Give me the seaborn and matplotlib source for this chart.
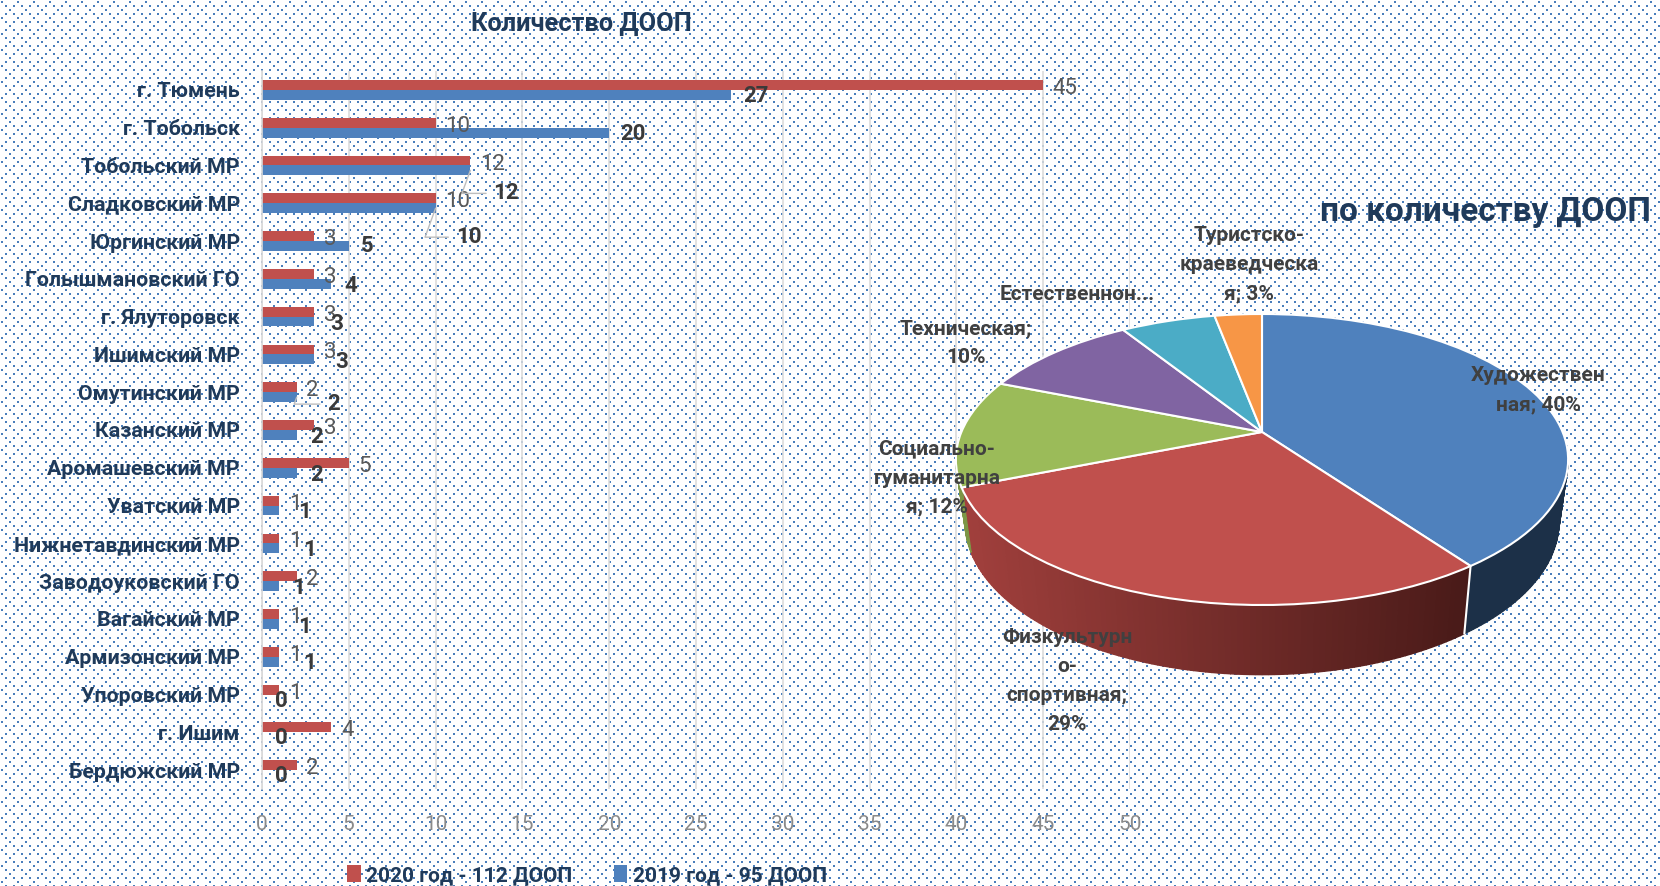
import numpy as np
import pandas as pd
import matplotlib
matplotlib.use("Agg")
import matplotlib.pyplot as plt
import matplotlib.transforms as mtransforms
import seaborn as sns

regions = ["г. Тюмень", "г. Тобольск", "Тобольский МР", "Сладковский МР", "Юргинский МР",
           "Голышмановский ГО", "г. Ялуторовск", "Ишимский МР", "Омутинский МР", "Казанский МР",
           "Аромашевский МР", "Уватский МР", "Нижнетавдинский МР", "Заводоуковский ГО",
           "Вагайский МР", "Армизонский МР", "Упоровский МР", "г. Ишим", "Бердюжский МР"]
count_2020 = [45, 10, 12, 10, 3, 3, 3, 3, 2, 3, 5, 1, 1, 2, 1, 1, 1, 4, 2]
count_2019 = [27, 20, 12, 10, 5, 4, 3, 3, 2, 2, 2, 1, 1, 1, 1, 1, 0, 0, 0]
year_labels = ["2020 год - 112 ДООП", "2019 год - 95 ДООП"]

pie_names = ["Художественная", "Физкультурно-спортивная", "Социально-гуманитарная",
             "Техническая", "Естественнонаучная", "Туристско-краеведческая"]
pie_values = [40, 29, 12, 10, 6, 3]

# label nudges for the 2019 series, pixels from the bar end / bar centre
blue_dx = [25, 24, 36, 33, 18, 19, 23, 28, 37, 20, 20, 25, 30, 19, 25, 30, 19, 19, 19]
blue_dy = [1, 1, 23, 29, 0, 2, 2, 3, 7, 2, 2, 2, 2, 2, 3, 1, 2, 1, 1]
leader_rows = [2, 3, 8]

NAVY = "#1f3a5a"
GREY = "#595959"
RED = "#c0504d"
BLUE = "#4f81bd"
W, H = 1660, 886


class Perspective(mtransforms.Transform):
    # tilted unit circle -> figure pixels
    input_dims = 2
    output_dims = 2

    def transform_non_affine(self, values):
        values = np.asarray(values)
        w = 1 + 0.189 * values[:, 1]
        return np.column_stack([1262 + 300.6 * values[:, 0] / w,
                                432 - 140.3 * values[:, 1] / w])


proj = Perspective()

sns.set_style("white")
plt.rcParams["font.family"] = ["Roboto", "DejaVu Sans"]

fig = plt.figure(figsize=(W / 100, H / 100), dpi=100)

# dotted page background
tile = np.ones((16, 16, 3))
for px, py in [(1, 1), (5, 5), (13, 5), (9, 9), (5, 13), (13, 13)]:
    tile[py:py + 2, px:px + 2] = matplotlib.colors.to_rgb("#4a7ebb")
page = np.tile(tile, (H // 16 + 1, W // 16 + 1, 1))[:H, :W]
bg = fig.add_axes([0, 0, 1, 1], zorder=0)
bg.imshow(page, interpolation="nearest", aspect="auto")
bg.axis("off")

# bars
df = pd.DataFrame({
    "region": regions * 2,
    "count": count_2020 + count_2019,
    "year": [year_labels[0]] * len(regions) + [year_labels[1]] * len(regions),
})
ax = fig.add_axes([262 / W, 1 - 789 / H, 868 / W, 718 / H], zorder=1)
ax.patch.set_alpha(0)
sns.barplot(data=df, y="region", x="count", hue="year", hue_order=year_labels,
            palette=[RED, BLUE], width=0.52, saturation=1, linewidth=0, ax=ax)
ax.set_xlim(0, 50)
ax.set_ylim(18.5, -0.5)
ax.set_xlabel("")
ax.set_ylabel("")
ax.set_axisbelow(True)
ax.grid(axis="x", color="#dcdcdc", lw=1.2)
for side in ["top", "right", "bottom"]:
    ax.spines[side].set_visible(False)
ax.spines["left"].set_color("#d9d9d9")
ax.spines["left"].set_linewidth(1.2)
ax.set_xticks(range(0, 51, 5))
ax.tick_params(axis="x", length=0, pad=19, labelsize=15, labelcolor="#8a8a8a")
ax.tick_params(axis="y", which="major", length=0, pad=16, labelsize=15.4, labelcolor=NAVY)
ax.set_yticks(np.arange(-0.5, 19), minor=True)
ax.tick_params(axis="y", which="minor", direction="in", length=5, color="#d9d9d9", width=1.2)
for lab in ax.get_yticklabels():
    lab.set_fontweight("bold")

red_labels = ax.bar_label(ax.containers[0], padding=7, fontsize=16, color=GREY)
for lab in red_labels:
    lab.xyann = (lab.xyann[0], lab.xyann[1] - 2.5)

bar_h = 0.52 / 2
for i, v in enumerate(count_2019):
    arrow = None
    if i in leader_rows:
        arrow = dict(arrowstyle="-", color="#bdbdbd", lw=1, relpos=(0, 0.5), shrinkA=3, shrinkB=0,
                     connectionstyle="angle,angleA=0,angleB=70,rad=0")
    ax.annotate(str(v), xy=(v, i + bar_h / 2), xycoords="data",
                xytext=(blue_dx[i] * 0.72, -blue_dy[i] * 0.72), textcoords="offset points",
                ha="center", va="center", fontsize=16, fontweight="bold", color="#3a3a3a",
                arrowprops=arrow)

ax.legend(*ax.get_legend_handles_labels(), loc="center", bbox_to_anchor=(587 / W, 1 - 875 / H),
          bbox_transform=fig.transFigure, ncol=2, frameon=False, handlelength=0.65, handleheight=0.9,
          handletextpad=0.25, columnspacing=2.0, borderpad=0,
          prop={"size": 15, "weight": "bold"}, labelcolor=NAVY)

# pie, drawn in figure pixels through the perspective
over = fig.add_axes([0, 0, 1, 1], zorder=2)
pie_colors = [BLUE, RED, "#9bbb59", "#8064a2", "#4bacc6", "#f79646"]
side_colors = ["#1c3048", None, "#7d9646"]
wedges, _ = over.pie(pie_values, colors=pie_colors, startangle=90, counterclock=False,
                     wedgeprops=dict(edgecolor="white", linewidth=1.5))
over.set_aspect("auto")
over.set_xlim(0, W)
over.set_ylim(H, 0)
over.axis("off")


def rim(turn):
    # turn measured clockwise from the top, in degrees
    t = np.radians(turn)
    return proj.transform_non_affine(np.column_stack([np.sin(t), np.cos(t)]))


def lower(points):
    return np.column_stack([1262 + 0.97 * (points[:, 0] - 1262),
                            432 + 1.05 * (points[:, 1] - 432) + 61])


edges = np.cumsum([0] + pie_values) * 3.6
steps = np.arange(101, 259.5, 1.0)
for a, b in zip(steps[:-1], steps[1:]):
    top = rim(np.array([a, b]))
    low = lower(top)
    quad = np.vstack([top, low[::-1]])
    if b <= edges[1]:
        col = side_colors[0]
    elif b <= edges[2] + 0.5:
        f = (quad[:, 0].mean() - 960) / (1470 - 960)
        col = np.array(matplotlib.colors.to_rgb("#a2403d")) * (1 - f) \
            + np.array(matplotlib.colors.to_rgb("#481a18")) * f
    else:
        col = side_colors[2]
    over.fill(quad[:, 0], quad[:, 1], facecolor=col, edgecolor=col, lw=1.0, zorder=0.5)
edge_top = rim(np.array([edges[1]]))
edge_low = lower(edge_top)
over.plot([edge_top[0, 0], edge_low[0, 0]], [edge_top[0, 1], edge_low[0, 1]], color="white", lw=1.5, zorder=0.6)

for wedge in wedges:
    wedge.set_transform(proj + over.transData)
    wedge.set_clip_on(False)
    wedge.set_zorder(1)

pie_font = dict(ha="center", va="center", fontsize=15, fontweight="bold", color="#404040",
                linespacing=1.68, zorder=3)
over.text(1249, 265, "Туристско-\nкраеведческа\nя; 3%", **pie_font)
over.text(1077, 295, "Естественнон...", **pie_font)
over.text(966, 343, "Техническая;\n10%", **pie_font)
over.text(937, 478, "Социально-\nгуманитарна\nя; 12%", **pie_font)
over.text(1538, 390, "Художествен\nная; 40%", **pie_font)
over.text(1067, 681, "Физкультурн\nо-\nспортивная;\n29%", **pie_font)

over.text(581, 24, "Количество ДООП", ha="center", va="center", fontsize=18.3, fontweight="bold", color=NAVY)
over.text(1485, 212, "по количеству ДООП", ha="center", va="center", fontsize=24, fontweight="bold", color=NAVY)

fig.savefig("out.png", dpi=100)
